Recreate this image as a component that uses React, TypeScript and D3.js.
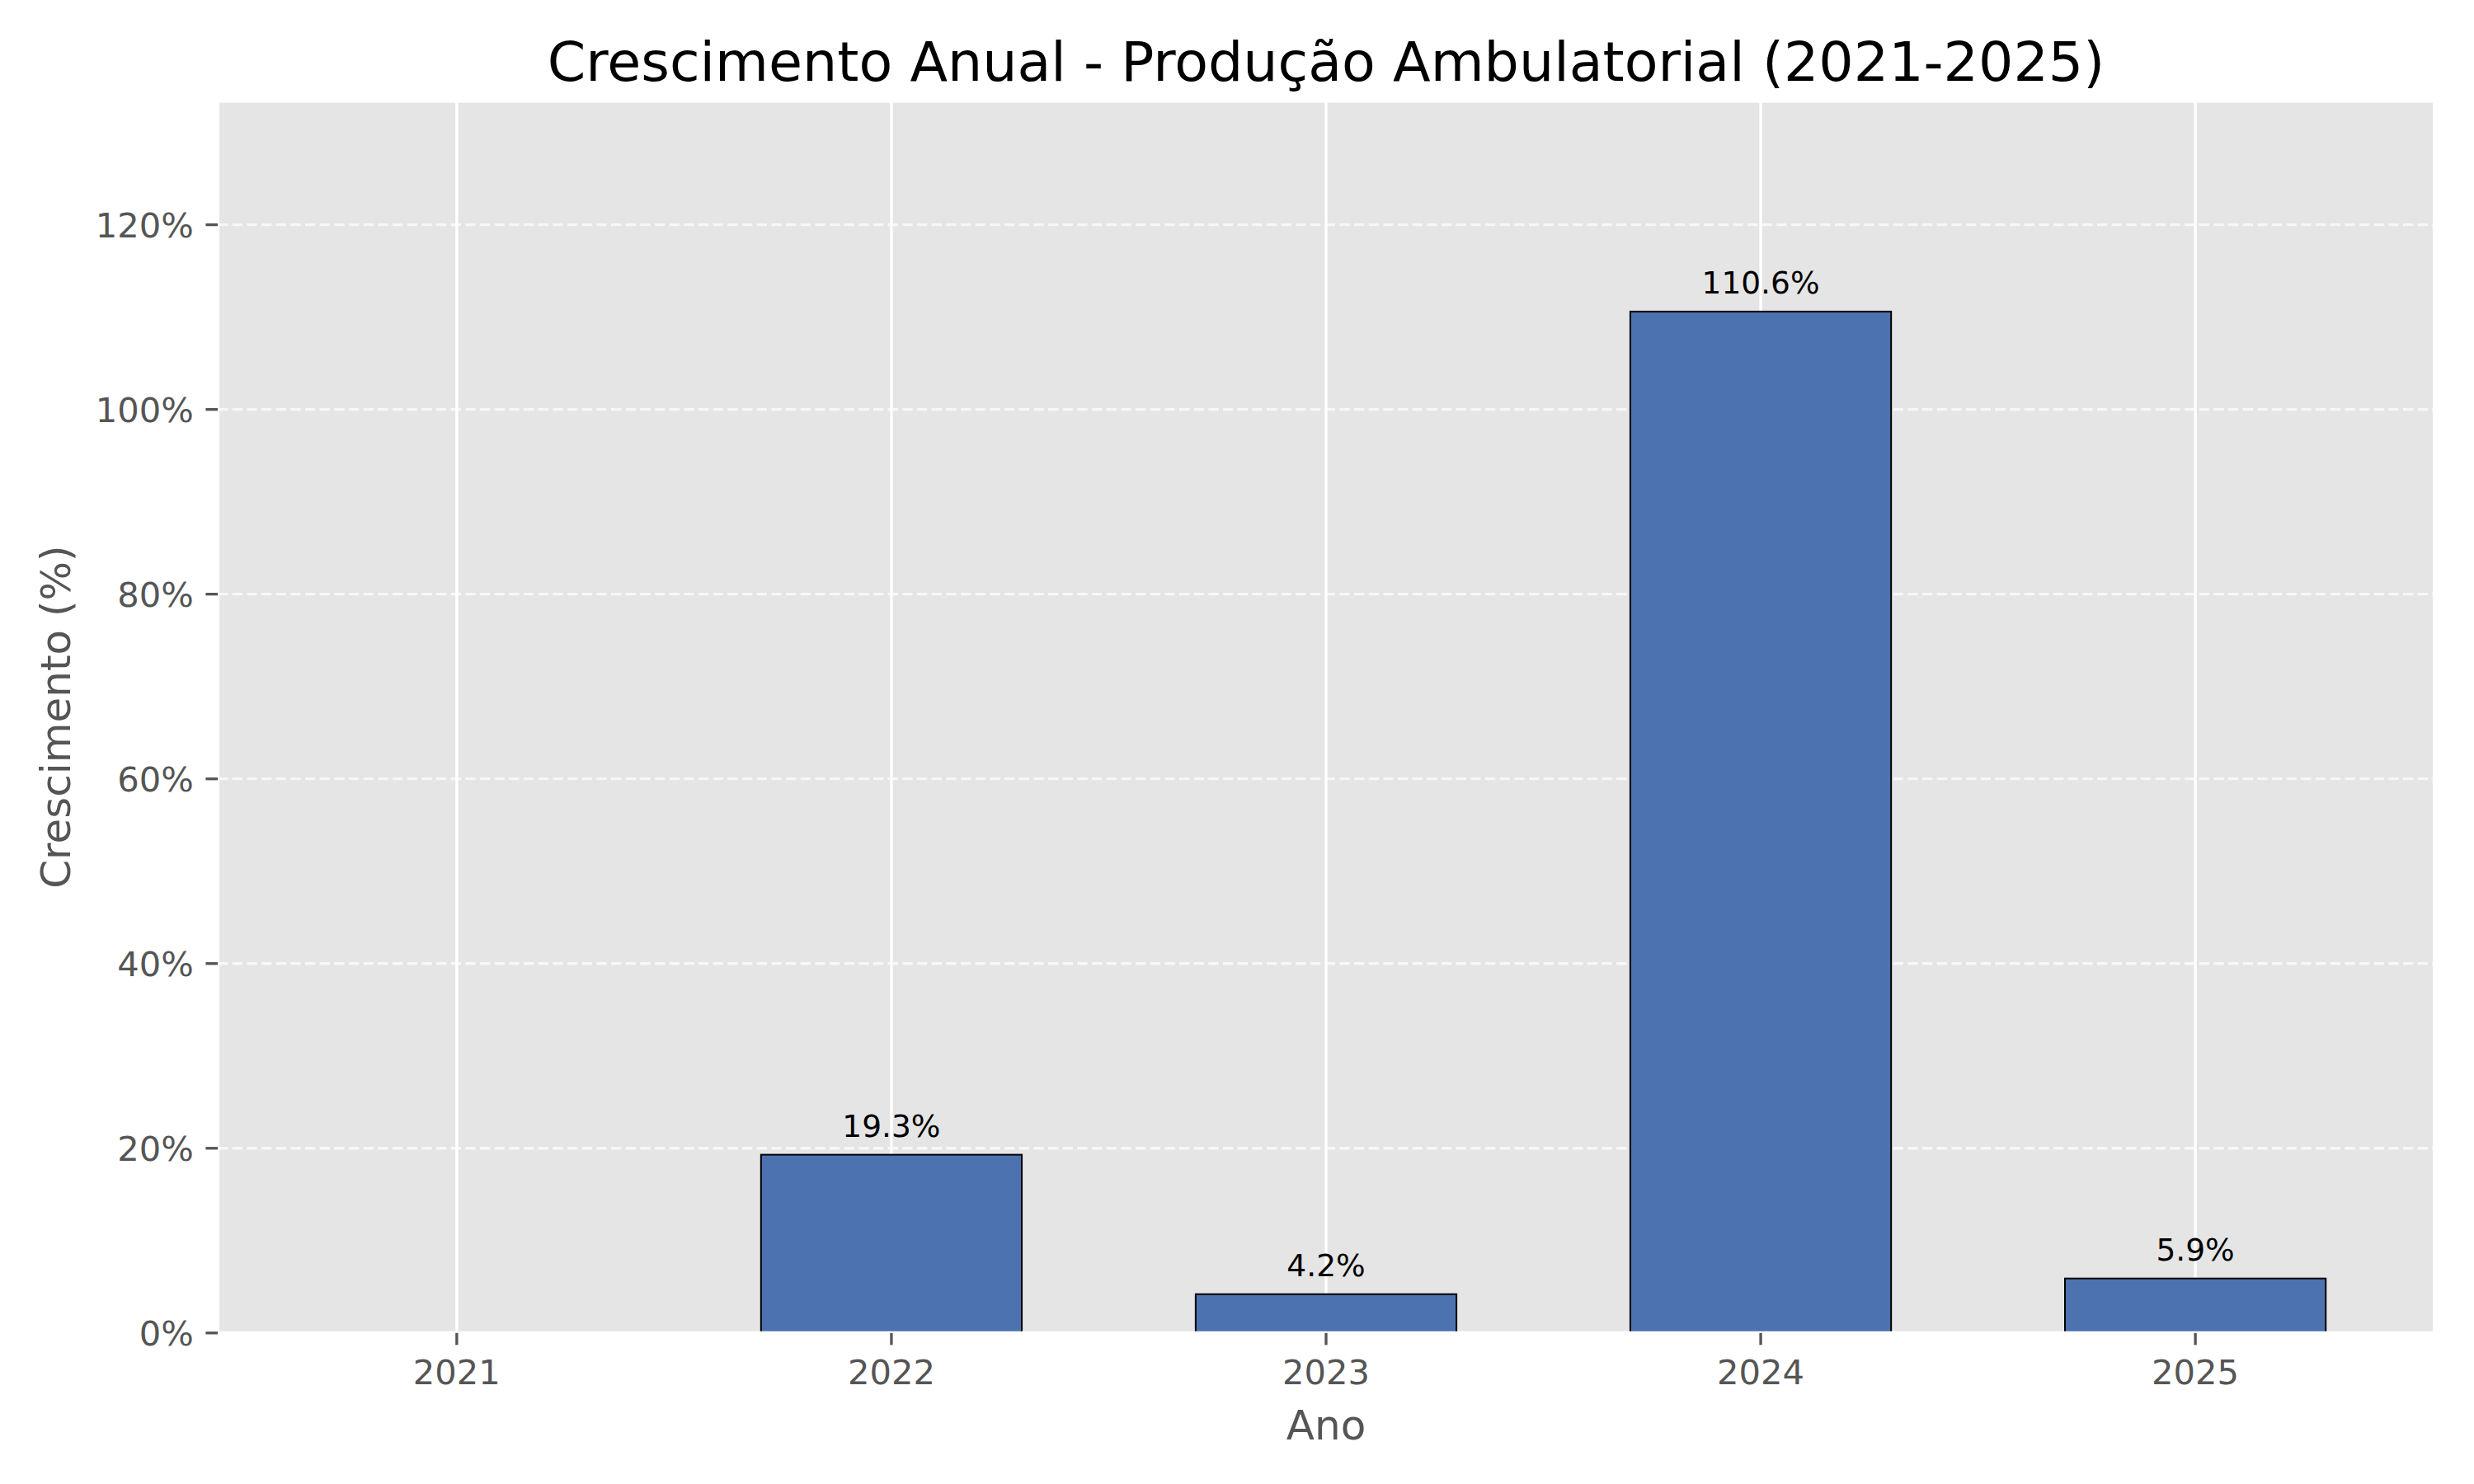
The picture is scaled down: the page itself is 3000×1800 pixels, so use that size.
import React, { useEffect, useRef } from 'react';
import * as d3 from 'd3';

const years = ['2021', '2022', '2023', '2024', '2025'];
// 2021 is the base year, so it has no growth value
const growth: (number | null)[] = [null, 19.3, 4.2, 110.6, 5.9];
const yTicks = [0, 20, 40, 60, 80, 100, 120];

const title = 'Crescimento Anual - Produção Ambulatorial (2021-2025)';
const xLabel = 'Ano';
const yLabel = 'Crescimento (%)';

const W = 3000;
const H = 1800;
const PT = 300 / 72;
const FONT = '"DejaVu Sans", Verdana, sans-serif';

const App = () => {
  const ref = useRef<SVGSVGElement>(null);

  useEffect(() => {
    const margin = { top: 122.5, right: 48, bottom: 183.2, left: 264 };
    const x0 = margin.left;
    const x1 = W - margin.right;
    const y0 = margin.top;
    const y1 = H - margin.bottom;

    const svg = d3.select(ref.current);
    svg.selectAll('*').remove();

    const xScale = d3.scaleLinear().domain([-0.55, years.length - 1 + 0.55]).range([x0, x1]);
    const yScale = d3.scaleLinear().domain([0, 133.4]).range([y1, y0]);
    const barW = xScale(0.6) - xScale(0);

    svg.append('rect').attr('width', W).attr('height', H).attr('fill', 'white');

    // axes background
    svg
      .append('rect')
      .attr('x', x0)
      .attr('y', y0)
      .attr('width', x1 - x0)
      .attr('height', y1 - y0)
      .attr('fill', '#E5E5E5');

    // vertical grid (solid)
    svg
      .append('g')
      .selectAll('line')
      .data(years)
      .join('line')
      .attr('x1', (_, i) => xScale(i))
      .attr('x2', (_, i) => xScale(i))
      .attr('y1', y0)
      .attr('y2', y1)
      .attr('stroke', 'white')
      .attr('stroke-width', 0.8 * PT);

    // horizontal grid (dashed)
    svg
      .append('g')
      .selectAll('line')
      .data(yTicks)
      .join('line')
      .attr('x1', x0)
      .attr('x2', x1)
      .attr('y1', (d) => yScale(d))
      .attr('y2', (d) => yScale(d))
      .attr('stroke', 'white')
      .attr('stroke-opacity', 0.7)
      .attr('stroke-width', 0.8 * PT)
      .attr('stroke-dasharray', `${2.96 * PT} ${1.28 * PT}`);

    const bars = years
      .map((y, i) => ({ year: y, i, value: growth[i] }))
      .filter((d) => d.value !== null) as { year: string; i: number; value: number }[];

    svg
      .append('g')
      .selectAll('rect')
      .data(bars)
      .join('rect')
      .attr('x', (d) => xScale(d.i) - barW / 2)
      .attr('y', (d) => yScale(d.value))
      .attr('width', barW)
      .attr('height', (d) => yScale(0) - yScale(d.value))
      .attr('fill', '#4C72B0')
      .attr('stroke', 'black')
      .attr('stroke-width', 2);

    // value labels
    svg
      .append('g')
      .selectAll('text')
      .data(bars)
      .join('text')
      .attr('x', (d) => xScale(d.i))
      .attr('y', (d) => yScale(d.value) - 21.4)
      .attr('text-anchor', 'middle')
      .attr('font-family', FONT)
      .attr('font-size', 9 * PT)
      .attr('fill', 'black')
      .text((d) => `${d.value.toFixed(1)}%`);

    // spines (white in ggplot style)
    svg
      .append('rect')
      .attr('x', x0)
      .attr('y', y0)
      .attr('width', x1 - x0)
      .attr('height', y1 - y0)
      .attr('fill', 'none')
      .attr('stroke', 'white')
      .attr('stroke-width', 1 * PT);

    const tickLen = 3.5 * PT;
    const tickColor = '#555555';

    // x ticks
    const xt = svg.append('g');
    xt.selectAll('line')
      .data(years)
      .join('line')
      .attr('x1', (_, i) => xScale(i))
      .attr('x2', (_, i) => xScale(i))
      .attr('y1', y1)
      .attr('y2', y1 + tickLen)
      .attr('stroke', tickColor)
      .attr('stroke-width', 0.8 * PT);
    xt.selectAll('text')
      .data(years)
      .join('text')
      .attr('x', (_, i) => xScale(i))
      .attr('y', 1679.3)
      .attr('text-anchor', 'middle')
      .attr('font-family', FONT)
      .attr('font-size', 10 * PT)
      .attr('fill', tickColor)
      .text((d) => d);

    // y ticks
    const yt = svg.append('g');
    yt.selectAll('line')
      .data(yTicks)
      .join('line')
      .attr('x1', x0 - tickLen)
      .attr('x2', x0)
      .attr('y1', (d) => yScale(d))
      .attr('y2', (d) => yScale(d))
      .attr('stroke', tickColor)
      .attr('stroke-width', 0.8 * PT);
    yt.selectAll('text')
      .data(yTicks)
      .join('text')
      .attr('x', x0 - tickLen - 3.5 * PT)
      .attr('y', (d) => yScale(d) + 15.5)
      .attr('text-anchor', 'end')
      .attr('font-family', FONT)
      .attr('font-size', 10 * PT)
      .attr('fill', tickColor)
      .text((d) => `${d}%`);

    // axis labels
    svg
      .append('text')
      .attr('x', (x0 + x1) / 2)
      .attr('y', 1746)
      .attr('text-anchor', 'middle')
      .attr('font-family', FONT)
      .attr('font-size', 12 * PT)
      .attr('fill', tickColor)
      .text(xLabel);

    svg
      .append('text')
      .attr('transform', `translate(85,${(y0 + y1) / 2}) rotate(-90)`)
      .attr('text-anchor', 'middle')
      .attr('font-family', FONT)
      .attr('font-size', 12 * PT)
      .attr('fill', tickColor)
      .text(yLabel);

    // title
    svg
      .append('text')
      .attr('x', (x0 + x1) / 2)
      .attr('y', y0 - 6 * PT)
      .attr('text-anchor', 'middle')
      .attr('font-family', FONT)
      .attr('font-size', 16 * PT)
      .attr('fill', 'black')
      .text(title);
  }, []);

  return (
    <svg
      ref={ref}
      width={W}
      height={H}
      style={{ position: 'absolute', left: 0, top: 0, display: 'block' }}
    />
  );
};

export default App;
